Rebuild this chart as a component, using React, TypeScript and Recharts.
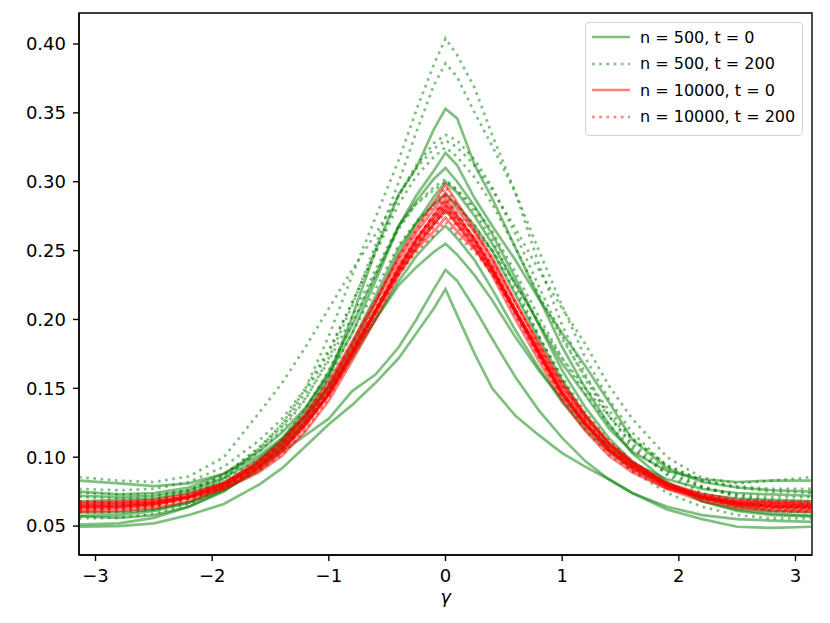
import React from "react";
import { Line, LineChart, ReferenceArea, XAxis, YAxis } from "recharts";

// gamma grid shared by every curve
const gamma = [
  -3.1416, -2.8, -2.5, -2.2, -1.9, -1.6, -1.4, -1.2, -1.0, -0.8, -0.6, -0.4, -0.25, -0.1, 0,
  0.1, 0.25, 0.4, 0.6, 0.8, 1.0, 1.2, 1.4, 1.6, 1.9, 2.2, 2.5, 2.8, 3.1416,
];

const xTicks = [-3, -2, -1, 0, 1, 2, 3];
const yTicks = [0.05, 0.1, 0.15, 0.2, 0.25, 0.3, 0.35, 0.4];

// n = 500, t = 0
const greenSolid = [
  [0.057, 0.056, 0.058, 0.064, 0.075, 0.093, 0.11, 0.131, 0.158, 0.202, 0.25, 0.291, 0.31, 0.338, 0.353, 0.346, 0.312, 0.288, 0.252, 0.216, 0.18, 0.15, 0.124, 0.103, 0.082, 0.068, 0.061, 0.058, 0.057],
  [0.075, 0.073, 0.074, 0.078, 0.088, 0.104, 0.118, 0.136, 0.16, 0.19, 0.228, 0.268, 0.29, 0.308, 0.321, 0.312, 0.288, 0.268, 0.243, 0.215, 0.19, 0.166, 0.14, 0.113, 0.092, 0.082, 0.078, 0.076, 0.075],
  [0.083, 0.081, 0.079, 0.081, 0.088, 0.101, 0.114, 0.13, 0.152, 0.18, 0.212, 0.248, 0.27, 0.289, 0.3, 0.292, 0.275, 0.255, 0.226, 0.197, 0.168, 0.145, 0.121, 0.104, 0.09, 0.084, 0.082, 0.083, 0.083],
  [0.068, 0.069, 0.07, 0.074, 0.082, 0.096, 0.108, 0.125, 0.146, 0.172, 0.2, 0.228, 0.246, 0.26, 0.268, 0.259, 0.243, 0.222, 0.192, 0.165, 0.14, 0.12, 0.104, 0.092, 0.08, 0.073, 0.07, 0.069, 0.068],
  [0.072, 0.071, 0.072, 0.076, 0.085, 0.099, 0.112, 0.13, 0.15, 0.175, 0.2, 0.225, 0.238, 0.249, 0.255, 0.247, 0.232, 0.214, 0.187, 0.163, 0.142, 0.123, 0.108, 0.096, 0.084, 0.077, 0.074, 0.073, 0.072],
  [0.051, 0.052, 0.056, 0.064, 0.076, 0.09, 0.104, 0.116, 0.128, 0.148, 0.16, 0.18, 0.2, 0.222, 0.236, 0.228, 0.208, 0.186, 0.158, 0.134, 0.114, 0.097, 0.084, 0.074, 0.064, 0.058, 0.055, 0.054, 0.053],
  [0.0495, 0.05, 0.052, 0.058, 0.066, 0.08, 0.092, 0.108, 0.124, 0.138, 0.154, 0.172, 0.19, 0.208, 0.222, 0.203, 0.175, 0.15, 0.13, 0.116, 0.103, 0.093, 0.084, 0.074, 0.062, 0.055, 0.0495, 0.0487, 0.0495],
  [0.06, 0.06, 0.062, 0.067, 0.076, 0.092, 0.107, 0.127, 0.152, 0.183, 0.217, 0.252, 0.27, 0.284, 0.291, 0.283, 0.268, 0.25, 0.218, 0.186, 0.156, 0.13, 0.11, 0.095, 0.08, 0.07, 0.064, 0.061, 0.06],
  [0.0575, 0.058, 0.061, 0.067, 0.078, 0.097, 0.113, 0.135, 0.162, 0.196, 0.232, 0.268, 0.286, 0.302, 0.31, 0.3, 0.282, 0.262, 0.23, 0.196, 0.163, 0.136, 0.114, 0.097, 0.08, 0.068, 0.062, 0.059, 0.0575],
];

// n = 500, t = 200
const greenDotted = [
  [0.063, 0.062, 0.064, 0.071, 0.084, 0.106, 0.124, 0.15, 0.188, 0.232, 0.274, 0.316, 0.352, 0.385, 0.404, 0.392, 0.368, 0.334, 0.292, 0.24, 0.196, 0.16, 0.13, 0.108, 0.087, 0.074, 0.067, 0.064, 0.063],
  [0.066, 0.065, 0.067, 0.073, 0.085, 0.104, 0.12, 0.142, 0.172, 0.21, 0.254, 0.3, 0.336, 0.37, 0.386, 0.376, 0.35, 0.326, 0.292, 0.25, 0.21, 0.172, 0.142, 0.118, 0.093, 0.079, 0.071, 0.067, 0.066],
  [0.0855, 0.083, 0.082, 0.086, 0.1, 0.132, 0.154, 0.18, 0.208, 0.236, 0.262, 0.29, 0.31, 0.324, 0.33, 0.325, 0.312, 0.294, 0.266, 0.236, 0.208, 0.182, 0.152, 0.128, 0.1, 0.085, 0.081, 0.083, 0.0855],
  [0.077, 0.076, 0.077, 0.082, 0.093, 0.112, 0.128, 0.15, 0.178, 0.212, 0.248, 0.284, 0.304, 0.318, 0.325, 0.318, 0.303, 0.284, 0.252, 0.218, 0.186, 0.158, 0.134, 0.114, 0.094, 0.083, 0.079, 0.077, 0.077],
  [0.071, 0.07, 0.071, 0.076, 0.087, 0.106, 0.122, 0.143, 0.17, 0.202, 0.236, 0.268, 0.284, 0.294, 0.3, 0.294, 0.281, 0.264, 0.234, 0.202, 0.172, 0.146, 0.124, 0.106, 0.088, 0.078, 0.073, 0.071, 0.071],
  [0.0556, 0.056, 0.059, 0.066, 0.078, 0.097, 0.113, 0.135, 0.163, 0.197, 0.233, 0.266, 0.284, 0.296, 0.302, 0.294, 0.278, 0.258, 0.224, 0.188, 0.156, 0.128, 0.106, 0.09, 0.074, 0.064, 0.058, 0.0556, 0.0556],
  [0.06, 0.06, 0.062, 0.068, 0.079, 0.096, 0.111, 0.131, 0.158, 0.19, 0.222, 0.254, 0.271, 0.283, 0.29, 0.283, 0.268, 0.25, 0.22, 0.188, 0.158, 0.132, 0.112, 0.097, 0.081, 0.071, 0.065, 0.061, 0.06],
  [0.074, 0.073, 0.073, 0.076, 0.084, 0.098, 0.11, 0.126, 0.148, 0.176, 0.206, 0.236, 0.254, 0.27, 0.278, 0.275, 0.265, 0.25, 0.226, 0.198, 0.172, 0.15, 0.13, 0.113, 0.094, 0.083, 0.078, 0.075, 0.074],
  [0.068, 0.067, 0.069, 0.075, 0.087, 0.107, 0.124, 0.147, 0.176, 0.212, 0.25, 0.29, 0.312, 0.328, 0.334, 0.33, 0.316, 0.296, 0.262, 0.224, 0.188, 0.156, 0.13, 0.11, 0.09, 0.078, 0.072, 0.069, 0.068],
];

// n = 10000, t = 0
const redSolid = [
  [0.062, 0.063, 0.065, 0.071, 0.081, 0.098, 0.112, 0.132, 0.155, 0.184, 0.214, 0.246, 0.266, 0.285, 0.298, 0.285, 0.265, 0.245, 0.213, 0.183, 0.154, 0.131, 0.111, 0.097, 0.081, 0.071, 0.065, 0.063, 0.062],
  [0.067, 0.0675, 0.069, 0.0735, 0.081, 0.094, 0.106, 0.124, 0.145, 0.174, 0.205, 0.237, 0.258, 0.276, 0.288, 0.276, 0.258, 0.237, 0.205, 0.174, 0.145, 0.124, 0.106, 0.094, 0.081, 0.0735, 0.069, 0.0675, 0.067],
  [0.066, 0.067, 0.068, 0.071, 0.077, 0.089, 0.101, 0.119, 0.141, 0.17, 0.2, 0.232, 0.252, 0.269, 0.281, 0.269, 0.252, 0.232, 0.2, 0.17, 0.141, 0.119, 0.101, 0.089, 0.077, 0.071, 0.068, 0.067, 0.066],
  [0.0635, 0.064, 0.066, 0.071, 0.08, 0.095, 0.109, 0.128, 0.15, 0.178, 0.206, 0.234, 0.251, 0.264, 0.274, 0.264, 0.251, 0.234, 0.206, 0.178, 0.15, 0.128, 0.109, 0.095, 0.08, 0.071, 0.066, 0.064, 0.0635],
  [0.0605, 0.061, 0.063, 0.068, 0.077, 0.091, 0.104, 0.123, 0.146, 0.176, 0.207, 0.239, 0.259, 0.274, 0.285, 0.274, 0.259, 0.239, 0.207, 0.176, 0.146, 0.123, 0.104, 0.091, 0.077, 0.068, 0.063, 0.061, 0.0605],
  [0.065, 0.066, 0.067, 0.072, 0.081, 0.096, 0.11, 0.129, 0.152, 0.181, 0.212, 0.243, 0.263, 0.28, 0.292, 0.28, 0.263, 0.243, 0.212, 0.181, 0.152, 0.129, 0.11, 0.096, 0.081, 0.072, 0.067, 0.066, 0.065],
  [0.0645, 0.065, 0.067, 0.0715, 0.0795, 0.0935, 0.1065, 0.1255, 0.1475, 0.1765, 0.2065, 0.2365, 0.2565, 0.272, 0.283, 0.272, 0.2565, 0.2365, 0.2065, 0.1765, 0.1475, 0.1255, 0.1065, 0.0935, 0.0795, 0.0715, 0.067, 0.065, 0.0645],
  [0.064, 0.0645, 0.066, 0.0705, 0.0785, 0.0925, 0.105, 0.124, 0.146, 0.175, 0.205, 0.235, 0.254, 0.269, 0.279, 0.269, 0.254, 0.235, 0.205, 0.175, 0.146, 0.124, 0.105, 0.0925, 0.0785, 0.0705, 0.066, 0.0645, 0.064],
];

// n = 10000, t = 200
const redDotted = [
  [0.0625, 0.063, 0.065, 0.07, 0.08, 0.097, 0.111, 0.131, 0.154, 0.183, 0.213, 0.245, 0.265, 0.283, 0.296, 0.283, 0.264, 0.244, 0.212, 0.182, 0.153, 0.13, 0.11, 0.096, 0.08, 0.07, 0.065, 0.063, 0.0625],
  [0.066, 0.0665, 0.0675, 0.071, 0.078, 0.09, 0.102, 0.12, 0.143, 0.173, 0.204, 0.237, 0.258, 0.276, 0.29, 0.276, 0.258, 0.237, 0.204, 0.173, 0.143, 0.12, 0.102, 0.09, 0.078, 0.071, 0.0675, 0.0665, 0.066],
  [0.0645, 0.065, 0.0665, 0.071, 0.079, 0.093, 0.106, 0.125, 0.147, 0.176, 0.206, 0.236, 0.256, 0.272, 0.283, 0.272, 0.256, 0.236, 0.206, 0.176, 0.147, 0.125, 0.106, 0.093, 0.079, 0.071, 0.0665, 0.065, 0.0645],
  [0.068, 0.068, 0.069, 0.073, 0.08, 0.093, 0.105, 0.123, 0.145, 0.173, 0.203, 0.233, 0.252, 0.267, 0.278, 0.267, 0.252, 0.233, 0.203, 0.173, 0.145, 0.123, 0.105, 0.093, 0.08, 0.073, 0.069, 0.068, 0.068],
  [0.061, 0.062, 0.064, 0.07, 0.08, 0.096, 0.11, 0.13, 0.152, 0.179, 0.206, 0.233, 0.249, 0.261, 0.271, 0.261, 0.249, 0.233, 0.206, 0.179, 0.152, 0.13, 0.11, 0.096, 0.08, 0.07, 0.064, 0.062, 0.061],
  [0.063, 0.0635, 0.065, 0.07, 0.078, 0.0925, 0.1055, 0.1245, 0.147, 0.177, 0.208, 0.239, 0.259, 0.276, 0.287, 0.276, 0.258, 0.239, 0.207, 0.177, 0.147, 0.1245, 0.1055, 0.0925, 0.078, 0.07, 0.065, 0.0635, 0.063],
  [0.0655, 0.066, 0.067, 0.0715, 0.0795, 0.0935, 0.107, 0.126, 0.148, 0.177, 0.207, 0.238, 0.258, 0.274, 0.285, 0.274, 0.258, 0.238, 0.207, 0.177, 0.148, 0.126, 0.107, 0.0935, 0.0795, 0.0715, 0.067, 0.066, 0.0655],
  [0.064, 0.0645, 0.066, 0.0705, 0.0785, 0.0925, 0.1055, 0.1245, 0.1465, 0.1755, 0.2055, 0.2355, 0.2545, 0.27, 0.28, 0.27, 0.2545, 0.2355, 0.2055, 0.1755, 0.1465, 0.1245, 0.1055, 0.0925, 0.0785, 0.0705, 0.066, 0.0645, 0.064],
];

const groups = [
  { key: "gs", label: "n = 500, t = 0", color: "#008000", dotted: false, curves: greenSolid },
  { key: "gd", label: "n = 500, t = 200", color: "#008000", dotted: true, curves: greenDotted },
  { key: "rs", label: "n = 10000, t = 0", color: "#ff0000", dotted: false, curves: redSolid },
  { key: "rd", label: "n = 10000, t = 200", color: "#ff0000", dotted: true, curves: redDotted },
];

const rows = gamma.map((g, i) => {
  const row: Record<string, number> = { gamma: g };
  groups.forEach((grp) => grp.curves.forEach((c, k) => (row[`${grp.key}${k}`] = c[i])));
  return row;
});

const font = "'DejaVu Sans', sans-serif";
const LW = 2.7;
const DASH = "2.7 4.5";
const fmtX = (v: number) => (v < 0 ? `\u2212${Math.abs(v)}` : `${v}`);

function LegendBox() {
  return (
    <div
      style={{
        position: "absolute",
        left: 585,
        top: 22,
        width: 216,
        height: 112,
        border: "1px solid #d3d3d3",
        borderRadius: 4,
        background: "rgba(255,255,255,0.8)",
        fontFamily: font,
        fontSize: 16,
        color: "#000",
      }}
    >
      {groups.map((grp, i) => (
        <div key={grp.key} style={{ position: "absolute", left: 5, top: 1 + i * 26.5, height: 26, display: "flex", alignItems: "center" }}>
          <svg width={40} height={10}>
            <line x1={1} x2={39} y1={5} y2={5} stroke={grp.color} strokeOpacity={0.5} strokeWidth={LW} strokeDasharray={grp.dotted ? DASH : undefined} />
          </svg>
          <span style={{ marginLeft: 9, whiteSpace: "nowrap" }}>{grp.label}</span>
        </div>
      ))}
    </div>
  );
}

export default function App() {
  return (
    <div style={{ position: "absolute", left: 0, top: 0, width: 830, height: 623, background: "#fff" }}>
      <LineChart width={830} height={623} data={rows} margin={{ top: 13, right: 18, bottom: 0, left: 0 }}>
        <XAxis
          dataKey="gamma"
          type="number"
          domain={[-Math.PI, Math.PI]}
          allowDataOverflow
          ticks={xTicks}
          tickFormatter={fmtX}
          height={68}
          tickSize={6}
          tickMargin={8}
          axisLine={{ stroke: "#000", strokeWidth: 1.4 }}
          tickLine={{ stroke: "#000", strokeWidth: 1.4 }}
          tick={{ fill: "#000", fontSize: 18, fontFamily: font }}
          label={{ value: "\u03b3", position: "insideBottom", offset: 20, style: { fontFamily: font, fontSize: 18, fontStyle: "italic", fill: "#000" } }}
        />
        <YAxis
          type="number"
          domain={[0.029, 0.4225]}
          allowDataOverflow
          ticks={yTicks}
          tickFormatter={(v: number) => v.toFixed(2)}
          width={79}
          tickSize={6}
          tickMargin={7}
          axisLine={{ stroke: "#000", strokeWidth: 1.4 }}
          tickLine={{ stroke: "#000", strokeWidth: 1.4 }}
          tick={{ fill: "#000", fontSize: 18, fontFamily: font }}
        />
        {groups.map((grp) =>
          grp.curves.map((_, k) => (
            <Line
              key={`${grp.key}${k}`}
              dataKey={`${grp.key}${k}`}
              type="linear"
              stroke={grp.color}
              strokeOpacity={0.5}
              strokeWidth={LW}
              strokeDasharray={grp.dotted ? DASH : undefined}
              dot={false}
              activeDot={false}
              isAnimationActive={false}
            />
          ))
        )}
        <ReferenceArea x1={-Math.PI} x2={Math.PI} y1={0.029} y2={0.4225} fill="none" stroke="#000" strokeWidth={1.4} />
      </LineChart>
      <LegendBox />
    </div>
  );
}
